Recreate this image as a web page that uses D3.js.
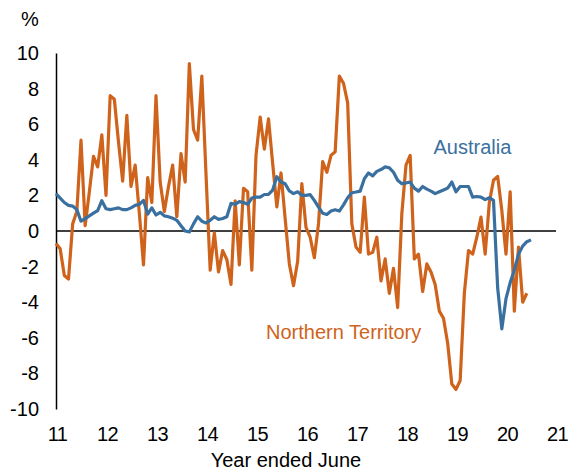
<!DOCTYPE html>
<html>
<head>
<meta charset="utf-8">
<script src="https://cdn.jsdelivr.net/npm/d3@7"></script>
<style>
  body { margin: 0; background: #fff; }
  svg text { font-family: "Liberation Sans", Arial, sans-serif; }
</style>
</head>
<body>
<svg id="chart" width="569" height="476"></svg>
<script>
// monthly, year ended June; first point = June 2011
const startYear = 11;

const australia = [
  2.1, 1.85, 1.6, 1.44, 1.4, 1.2, 0.55, 0.7, 0.85, 1.0,
  1.15, 1.7, 1.25, 1.2, 1.25, 1.3, 1.2, 1.2, 1.3, 1.44,
  1.5, 1.72, 0.95, 1.3, 0.9, 1.05, 0.85, 0.8, 0.72, 0.6,
  0.3, 0.0, -0.05, 0.4, 0.8, 0.55, 0.45, 0.6, 0.8, 0.65,
  0.7, 0.8, 1.55, 1.5, 1.65, 1.6, 1.5, 1.85, 1.9, 1.9,
  2.05, 2.06, 2.3, 3.05, 2.75, 2.65, 2.25, 2.1, 2.2, 2.0,
  2.0, 2.04, 1.72, 1.34, 1.0, 0.93, 1.12, 1.19, 1.12, 1.47,
  1.87, 2.15, 2.19, 2.24, 2.94, 3.26, 3.1, 3.35, 3.45, 3.6,
  3.55, 3.3, 2.85, 2.66, 2.7, 2.75, 2.41, 2.24, 2.5, 2.35,
  2.24, 2.1, 2.2, 2.3, 2.41, 2.75, 2.2, 2.5, 2.5, 2.5,
  1.9, 1.94, 1.9, 1.76, 1.87, 1.72, -3.2, -5.5, -3.8, -2.9,
  -2.2, -1.3, -0.85, -0.6, -0.5
];

const northernTerritory = [
  -0.7, -1.0, -2.5, -2.7, 0.4, 1.1, 5.1, 0.3, 2.2, 4.2,
  3.6, 5.4, 2.0, 7.6, 7.4, 5.0, 2.8, 6.5, 2.5, 3.7,
  1.0, -1.9, 3.0, 1.6, 7.6, 2.75, 1.1, 2.5, 3.7, 0.8,
  4.35, 2.75, 9.4, 5.7, 5.1, 8.7, 3.2, -2.2, -0.1, -2.3,
  -1.1, -1.6, -3.0, 1.7, -1.9, 2.4, 2.2, -2.2, 4.25, 6.4,
  4.6, 6.3, 3.8, 1.35, 3.26, 0.7, -1.85, -3.07, -1.7, 2.66,
  0.2, -0.35, -1.5, 0.4, 3.9, 3.3, 4.25, 4.45, 8.7, 8.3,
  7.2, 0.4, -0.9, -1.2, 1.9, -1.3, -1.2, -0.35, -2.8, -1.57,
  -3.5, -2.1, -4.3, 0.97, 3.7, 4.25, -1.57, -1.3, -3.4, -1.85,
  -2.3, -3.0, -4.5, -4.9, -6.3, -8.6, -8.9, -8.4, -3.5, -1.1,
  -1.3, -0.35, 0.78, -1.3, 1.6, 2.85, 3.07, 1.15, -1.3, 2.2,
  -4.5, -0.9, -4.0, -3.5
];

const xTicks = [11, 12, 13, 14, 15, 16, 17, 18, 19, 20, 21];
const yTicks = [-10, -8, -6, -4, -2, 0, 2, 4, 6, 8, 10];

let blue = "#3A70A0";
let orange = "#CF631C";

const svg = d3.select("#chart");
const margin = {top: 53, right: 13, bottom: 67, left: 56};
const width = 569;
const height = 476;
const boundedWidth = width - margin.left - margin.right;
const boundedHeight = height - margin.top - margin.bottom;

const g = svg.append("g")
    .attr("transform", `translate(${margin.left}, ${margin.top})`);

const toSeries = arr => arr.map((v, i) => ({year: startYear + i / 12, value: v}));

const xScale = d3.scaleLinear()
    .domain([11, 21])
    .range([0, boundedWidth]);

const yScale = d3.scaleLinear()
    .domain([-10, 10])
    .range([boundedHeight, 0]);

// y axis
const yAxis = d3.axisLeft(yScale)
    .tickValues(yTicks)
    .tickSize(0)
    .tickPadding(17)
    .tickFormat(d => String(d));

g.append("g")
    .attr("class", "axis yaxis")
    .call(yAxis)
    .call(a => a.select(".domain").attr("stroke", "#000").attr("stroke-width", 1.5))
    .selectAll("text")
    .style("font-size", "20px")
    .style("fill", "#000");

// x axis labels
const xAxis = d3.axisBottom(xScale)
    .tickValues(xTicks)
    .tickSize(0)
    .tickPadding(18)
    .tickFormat(d => String(d));

g.append("g")
    .attr("class", "axis xaxis")
    .attr("transform", `translate(1, ${boundedHeight})`)
    .call(xAxis)
    .call(a => a.select(".domain").remove())
    .selectAll("text")
    .style("font-size", "20px")
    .style("letter-spacing", "-0.5px")
    .style("fill", "#000");

// zero line
g.append("line")
    .attr("x1", 0)
    .attr("x2", xScale(21))
    .attr("y1", yScale(0))
    .attr("y2", yScale(0))
    .style("stroke", "#000")
    .style("stroke-width", 1.5);

const line = d3.line()
    .x(d => xScale(d.year))
    .y(d => yScale(d.value));

g.append("path")
    .datum(toSeries(northernTerritory))
    .attr("d", line)
    .style("fill", "none")
    .style("stroke", orange)
    .style("stroke-width", 3.2)
    .style("stroke-linejoin", "round");

g.append("path")
    .datum(toSeries(australia))
    .attr("d", line)
    .style("fill", "none")
    .style("stroke", blue)
    .style("stroke-width", 3.2)
    .style("stroke-linejoin", "round");

// series labels
g.append("text")
    .attr("x", xScale(18.55))
    .attr("y", yScale(4.3))
    .text("Australia")
    .style("font-size", "20px")
    .style("fill", blue);

g.append("text")
    .attr("x", xScale(15.2))
    .attr("y", yScale(-6.05))
    .text("Northern Territory")
    .style("font-size", "20px")
    .style("fill", orange);

// unit and axis title
svg.append("text")
    .attr("x", 30)
    .attr("y", 26)
    .attr("text-anchor", "middle")
    .text("%")
    .style("font-size", "20px");

svg.append("text")
    .attr("x", 286)
    .attr("y", 467)
    .attr("text-anchor", "middle")
    .text("Year ended June")
    .style("font-size", "20px");
</script>
</body>
</html>
